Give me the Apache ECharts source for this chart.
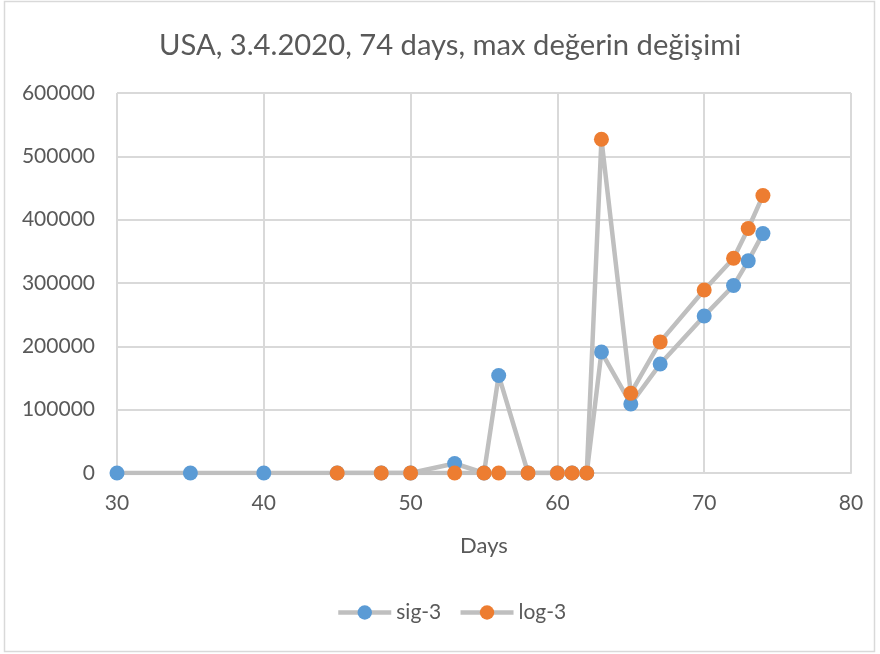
<!DOCTYPE html>
<html>
<head>
<meta charset="utf-8">
<script src="https://cdn.jsdelivr.net/npm/echarts@6/dist/echarts.min.js"></script>
<style>
  html, body { margin: 0; padding: 0; background: #fff; }
  #chart { width: 880px; height: 654px; }
</style>
</head>
<body>
<div id="chart"></div>
<script>
// Day numbers and values for each series
const sigDays = [30, 35, 40, 45, 48, 50, 53, 55, 56, 58, 60, 61, 62, 63, 65, 67, 70, 72, 73, 74];
const sigValues = [0, 0, 0, 0, 0, 0, 15000, 0, 154000, 0, 0, 0, 0, 191000, 109000, 172000, 248000, 296000, 335000, 378000];
const logDays = [45, 48, 50, 53, 55, 56, 58, 60, 61, 62, 63, 65, 67, 70, 72, 73, 74];
const logValues = [0, 0, 0, 0, 0, 0, 0, 0, 0, 0, 527000, 126000, 207000, 289000, 339000, 386000, 438000];

const titleText = 'USA, 3.4.2020, 74 days, max değerin değişimi';
const xAxisName = 'Days';
const seriesNames = ['sig-3', 'log-3'];

const pair = (xs, ys) => xs.map((x, i) => [x, ys[i]]);

const textColor = '#595959';
const fontFamily = 'Lato, "Open Sans", sans-serif';

const chart = echarts.init(document.getElementById('chart'), null, { renderer: 'canvas' });

chart.setOption({
  animation: false,
  backgroundColor: '#fff',
  textStyle: { fontFamily: fontFamily, color: textColor },
  graphic: [{
    type: 'rect',
    shape: { x: 4.5, y: 1.5, width: 870, height: 650 },
    style: { fill: 'none', stroke: '#d9d9d9', lineWidth: 1.5 },
    silent: true,
    z: -1
  }],
  title: {
    text: titleText,
    left: 154,
    top: 26,
    textStyle: { fontFamily: fontFamily, fontSize: 29.2, fontWeight: 'normal', color: textColor }
  },
  legend: {
    bottom: 26,
    left: 331,
    itemWidth: 53,
    itemHeight: 18,
    itemGap: 17,
    lineStyle: { width: 4.5, color: '#bfbfbf' },
    textStyle: { fontFamily: fontFamily, fontSize: 21, color: textColor },
    data: seriesNames
  },
  grid: { left: 117, right: 29, top: 93, bottom: 181, containLabel: false },
  xAxis: {
    type: 'value',
    min: 30,
    max: 80,
    interval: 10,
    name: xAxisName,
    nameLocation: 'middle',
    nameGap: 62,
    nameTextStyle: { fontFamily: fontFamily, fontSize: 22, color: textColor },
    axisLine: { show: true, onZero: true, lineStyle: { color: '#d9d9d9', width: 2 } },
    axisTick: { show: false },
    axisLabel: { fontFamily: fontFamily, fontSize: 21, color: textColor, margin: 20 },
    splitLine: { show: true, lineStyle: { color: '#d9d9d9', width: 2 } }
  },
  yAxis: {
    type: 'value',
    min: 0,
    max: 600000,
    interval: 100000,
    axisLine: { show: false },
    axisTick: { show: false },
    axisLabel: {
      fontFamily: fontFamily, fontSize: 21, color: textColor, margin: 22,
      formatter: v => String(v)
    },
    splitLine: { show: true, lineStyle: { color: '#d9d9d9', width: 2 } }
  },
  series: [
    {
      name: seriesNames[0],
      type: 'line',
      data: pair(sigDays, sigValues),
      symbol: 'circle',
      symbolSize: 15,
      showAllSymbol: true,
      itemStyle: { color: '#5b9bd5' },
      lineStyle: { color: '#bfbfbf', width: 4.5 },
      z: 2
    },
    {
      name: seriesNames[1],
      type: 'line',
      data: pair(logDays, logValues),
      symbol: 'circle',
      symbolSize: 15,
      showAllSymbol: true,
      itemStyle: { color: '#ed7d31' },
      lineStyle: { color: '#bfbfbf', width: 4.5 },
      z: 3
    }
  ]
});
</script>
</body>
</html>
